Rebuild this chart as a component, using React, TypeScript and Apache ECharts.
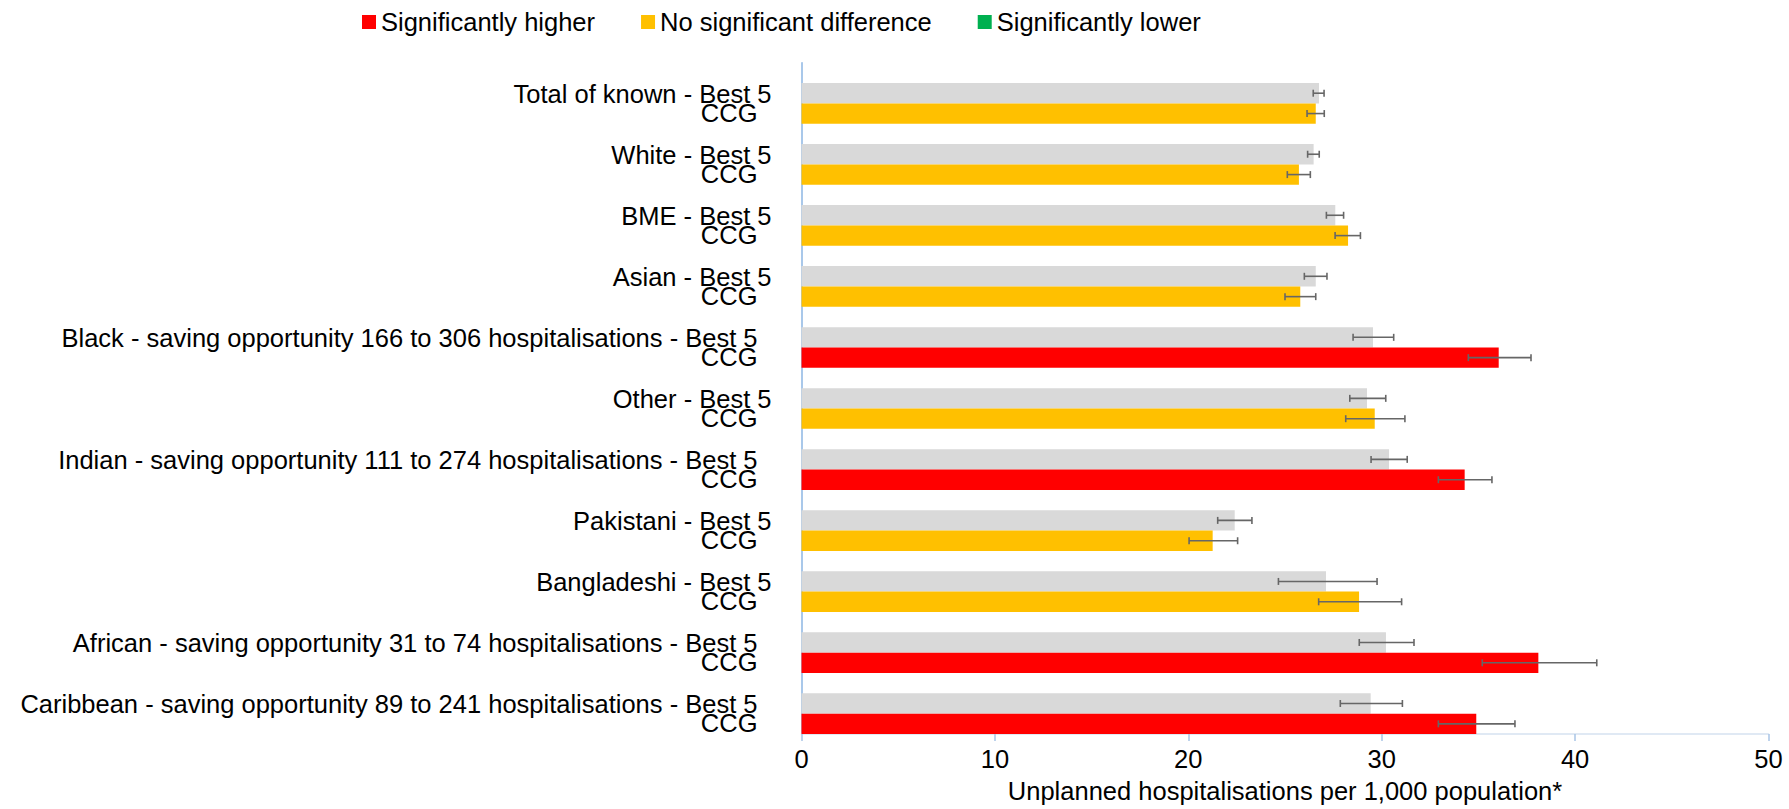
import React, { useEffect, useRef } from "react";
import * as echarts from "echarts";

const groups = [
  "Total of known",
  "White",
  "BME",
  "Asian",
  "Black - saving opportunity 166 to 306 hospitalisations",
  "Other",
  "Indian - saving opportunity 111 to 274 hospitalisations",
  "Pakistani",
  "Bangladeshi",
  "African - saving opportunity 31 to 74 hospitalisations",
  "Caribbean - saving opportunity 89 to 241 hospitalisations",
];

const best5 = [26.76, 26.48, 27.6, 26.59, 29.55, 29.24, 30.38, 22.4, 27.12, 30.22, 29.43];
const best5Low = [26.46, 26.17, 27.14, 26.0, 28.52, 28.35, 29.45, 21.52, 24.66, 28.84, 27.86];
const best5High = [27.02, 26.77, 28.03, 27.17, 30.62, 30.21, 31.32, 23.29, 29.76, 31.67, 31.07];

const ccg = [26.59, 25.72, 28.26, 25.79, 36.05, 29.64, 34.29, 21.26, 28.83, 38.1, 34.89];
const ccgLow = [26.14, 25.12, 27.59, 25.0, 34.48, 28.14, 32.93, 20.04, 26.74, 35.2, 32.93];
const ccgHigh = [27.03, 26.31, 28.9, 26.59, 37.72, 31.2, 35.7, 22.55, 31.03, 41.12, 36.89];

// significance of CCG vs Best 5: "higher" | "none" | "lower"
const significance = ["none", "none", "none", "none", "higher", "none", "higher", "none", "none", "higher", "higher"];

const xTicks = { min: 0, max: 50, interval: 10 };
const xTitle = "Unplanned hospitalisations per 1,000 population*";
const legendNames = ["Significantly higher", "No significant difference", "Significantly lower"];

const FONT = "'Liberation Sans', Arial, sans-serif";
const FS = 25.5;
const LH = 19.5;

export default function App() {
  const ref = useRef<HTMLDivElement>(null);
  useEffect(() => {
    document.body.style.margin = "0";
    const chart = echarts.init(ref.current!, null, { renderer: "svg" });
    const sigData = (key: string) =>
      ccg.map((v, i) => (significance[i] === key ? v : "-"));
    // slot: 0 = Best 5 bar (middle third of band), 1 = CCG bar (bottom third)
    const errSeries = (low: number[], high: number[], slot: number, name: string) => ({
      name,
      type: "custom",
      z: 10,
      clip: false,
      silent: true,
      encode: { x: [0, 1], y: 2 },
      data: low.map((l, i) => [l, high[i], i]),
      renderItem: (params: any, api: any) => {
        const ci = api.value(2);
        const p1 = api.coord([api.value(0), ci]);
        const p2 = api.coord([api.value(1), ci]);
        const band = api.size([0, 1])[1];
        const y = p1[1] + (slot * band) / 3;
        const cap = 3.5;
        const st = { stroke: "#666666", lineWidth: 1.6 };
        return {
          type: "group",
          children: [
            { type: "line", shape: { x1: p1[0], y1: y, x2: p2[0], y2: y }, style: st },
            { type: "line", shape: { x1: p1[0], y1: y - cap, x2: p1[0], y2: y + cap }, style: st },
            { type: "line", shape: { x1: p2[0], y1: y - cap, x2: p2[0], y2: y + cap }, style: st },
          ],
        };
      },
    });
    const barCommon = { type: "bar", barGap: "0%", barCategoryGap: "0%" };
    chart.setOption({
      animation: false,
      textStyle: { fontFamily: FONT },
      legend: {
        data: legendNames,
        left: 357,
        top: 4,
        itemWidth: 14,
        itemHeight: 14,
        itemGap: 46,
        icon: "rect",
        textStyle: { fontFamily: FONT, fontSize: FS, color: "#000" },
      },
      grid: { left: 801.5, right: 20.5, top: 62.7, bottom: 69, containLabel: false },
      xAxis: {
        type: "value",
        min: xTicks.min,
        max: xTicks.max,
        interval: xTicks.interval,
        splitLine: { show: false },
        axisLine: { show: true, lineStyle: { color: "#D6E2F1", width: 1.5 } },
        axisTick: { show: true, length: 7, lineStyle: { color: "#A9C4E6", width: 1.5 } },
        axisLabel: { fontFamily: FONT, fontSize: FS, color: "#000", margin: 12 },
        name: xTitle,
        nameLocation: "middle",
        nameGap: 44,
        nameTextStyle: { fontFamily: FONT, fontSize: FS, color: "#000" },
      },
      yAxis: {
        type: "category",
        inverse: true,
        data: groups,
        axisLine: { show: true, lineStyle: { color: "#8DB6E3", width: 1.5 } },
        axisTick: { show: false },
        axisLabel: {
          margin: 30,
          interval: 0,
          formatter: (v: string) =>
            `{s| }\n{${v.length > 30 ? "l" : "a"}|${v} - Best 5}\n{b|CCG}`,
          rich: {
            s: { fontFamily: FONT, fontSize: 8, lineHeight: 20.5 },
            a: { fontFamily: FONT, fontSize: FS, color: "#000", lineHeight: LH },
            l: { fontFamily: FONT, fontSize: FS, color: "#000", lineHeight: LH, padding: [0, 14, 0, 0] },
            b: { fontFamily: FONT, fontSize: FS, color: "#000", lineHeight: LH, padding: [0, 14, 0, 0] },
          },
        },
      },
      series: [
        {
          ...barCommon,
          name: "spacer",
          data: groups.map(() => "-"),
          itemStyle: { color: "transparent" },
          silent: true,
        },
        {
          ...barCommon,
          name: "Best 5",
          data: best5,
          itemStyle: { color: "#D9D9D9" },
        },
        {
          ...barCommon,
          name: legendNames[0],
          stack: "ccg",
          data: sigData("higher"),
          itemStyle: { color: "#FF0000" },
        },
        {
          ...barCommon,
          name: legendNames[1],
          stack: "ccg",
          data: sigData("none"),
          itemStyle: { color: "#FFC000" },
        },
        {
          ...barCommon,
          name: legendNames[2],
          stack: "ccg",
          data: sigData("lower"),
          itemStyle: { color: "#00B050" },
        },
        errSeries(best5Low, best5High, 0, "Best 5 CI"),
        errSeries(ccgLow, ccgHigh, 1, "CCG CI"),
      ],
    });
    return () => chart.dispose();
  }, []);
  return <div ref={ref} style={{ width: 1789, height: 809 }} />;
}
